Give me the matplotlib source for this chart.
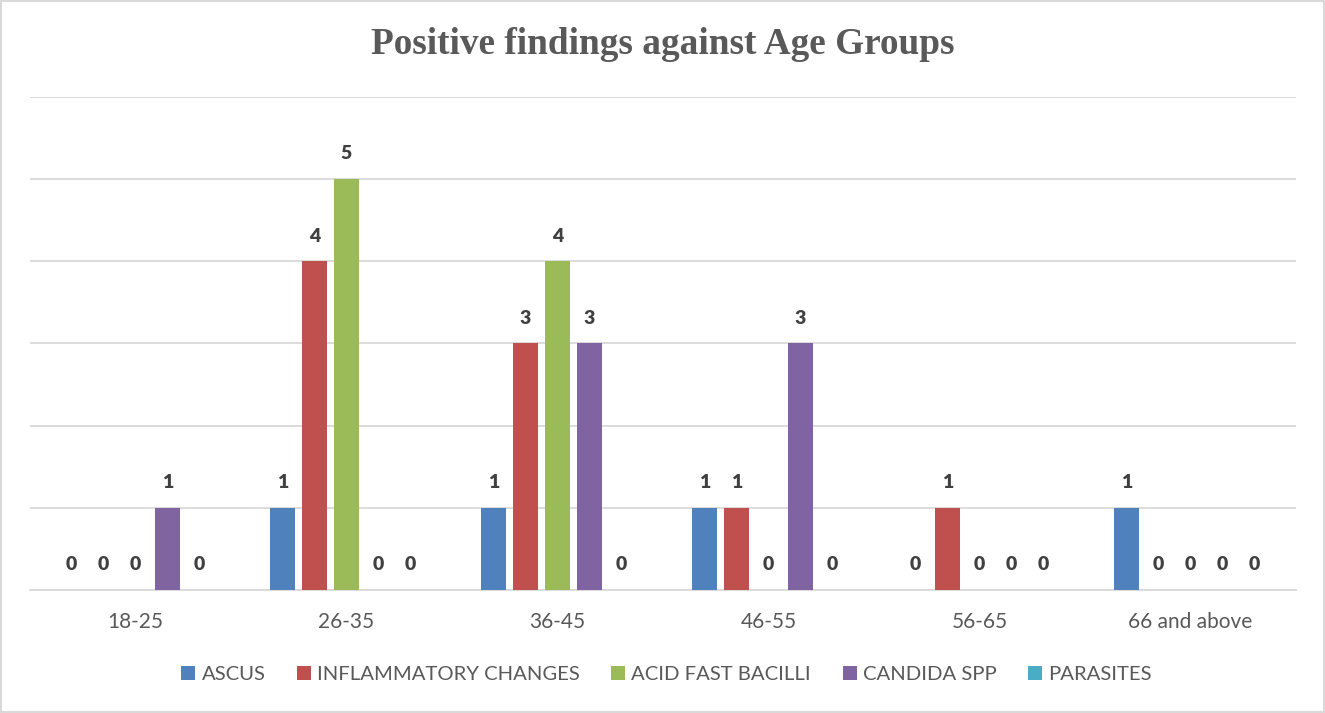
import matplotlib
matplotlib.use("Agg")
import matplotlib.pyplot as plt
import numpy as np
from matplotlib.patches import Rectangle

age_groups = ["18-25", "26-35", "36-45", "46-55", "56-65", "66 and above"]
series_names = ["ASCUS", "INFLAMMATORY CHANGES", "ACID FAST BACILLI", "CANDIDA SPP", "PARASITES"]
ascus = [0, 1, 1, 1, 0, 1]
inflammatory = [0, 4, 3, 1, 1, 0]
acid_fast = [0, 5, 4, 0, 0, 0]
candida = [1, 0, 3, 3, 0, 0]
parasites = [0, 0, 0, 0, 0, 0]
series_values = [ascus, inflammatory, acid_fast, candida, parasites]
colors = ["#4F81BD", "#C0504D", "#9BBB59", "#8064A2", "#4BACC6"]

plt.rcParams["font.family"] = ["Lato", "DejaVu Sans"]

fig = plt.figure(figsize=(13.25, 7.13), dpi=100)
fig.patches.append(Rectangle((0.001, 0.001), 0.998, 0.997, transform=fig.transFigure,
                             fill=False, edgecolor="#d9d9d9", linewidth=1.5))
ax = fig.add_axes([0.0226, 0.1725, 0.9555, 0.6915])

x = np.arange(len(age_groups))
step = 0.152
width = 0.118
for i, (name, vals, c) in enumerate(zip(series_names, series_values, colors)):
    pos = x + (i - 2) * step
    ax.bar(pos, vals, width=width, color=c, label=name, zorder=3)
    for xp, v in zip(pos, vals):
        ax.annotate(f"{v}", (xp, v), xytext=(0, 12), textcoords="offset points",
                    ha="center", va="bottom", fontsize=14, fontweight="heavy",
                    color="#404040")

ax.set_xlim(-0.5, len(age_groups) - 0.5)
ax.set_ylim(0, 6)
ax.set_yticks(range(0, 7))
ax.yaxis.grid(True, color="#d9d9d9", linewidth=1.3, zorder=0)
ax.tick_params(axis="y", left=False, labelleft=False)
ax.set_xticks(x)
ax.set_xticklabels(age_groups, fontsize=15, color="#595959")
ax.tick_params(axis="x", length=0, pad=16)
for s in ["top", "right", "left"]:
    ax.spines[s].set_visible(False)
ax.spines["bottom"].set_color("#d9d9d9")
ax.spines["bottom"].set_linewidth(1.3)

fig.text(0.5, 0.937, "Positive findings against Age Groups", ha="center", va="center",
         fontsize=26.8, fontweight="bold", color="#595959",
         family=["Liberation Serif", "DejaVu Serif"])

leg = fig.legend(loc="center", bbox_to_anchor=(0.503, 0.054), ncol=5, frameon=False,
                 fontsize=14.6, handlelength=0.7, handleheight=0.7, handletextpad=0.3,
                 columnspacing=1.55)
for t in leg.get_texts():
    t.set_color("#595959")

fig.savefig("out.png", dpi=100)
